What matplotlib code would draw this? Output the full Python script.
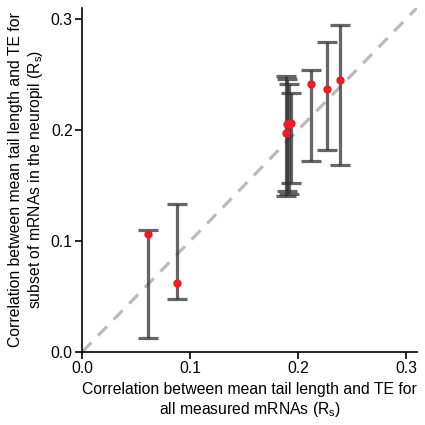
# neuropil subset vs all mRNAs: tail length / TE correlation

import numpy as np
import matplotlib.pyplot as plt

plt.rcParams['font.family'] = ['Liberation Sans', 'DejaVu Sans']

# correlation for all measured mRNAs (x) and for the neuropil subset (y)
rs_all = [0.061, 0.088, 0.1885, 0.190, 0.1915, 0.1935, 0.2118, 0.2263, 0.2386]
rs_sub = [0.106, 0.062, 0.197, 0.205, 0.2057, 0.206, 0.2415, 0.237, 0.2448]
ci_low = [0.0126, 0.0476, 0.1407, 0.1445, 0.142, 0.152, 0.1716, 0.1816, 0.168]
ci_high = [0.110, 0.1334, 0.249, 0.2455, 0.241, 0.233, 0.254, 0.279, 0.2945]

x = np.array(rs_all)
y = np.array(rs_sub)
yerr = np.array([y - np.array(ci_low), np.array(ci_high) - y])

fig = plt.figure(figsize=(4.25, 4.25), dpi=100)
ax = fig.add_axes([0.194, 0.1725, 0.787, 0.809])

ax.plot([0, 0.32], [0, 0.32], color='#bbbbbb', lw=2.3, ls=(0, (4, 3)), zorder=1)
ax.errorbar(x, y, yerr=yerr, fmt='none', ecolor='#333333', elinewidth=2.3,
            capsize=7.5, capthick=2.3, alpha=0.75, zorder=2)
ax.scatter(x, y, s=36, color='#ee1c24', zorder=3, linewidths=0)

ax.set_xlim(0, 0.31)
ax.set_ylim(0, 0.31)
ax.set_xticks([0.0, 0.1, 0.2, 0.3])
ax.set_yticks([0.0, 0.1, 0.2, 0.3])
ax.set_xticklabels(['0.0', '0.1', '0.2', '0.3'])
ax.set_yticklabels(['0.0', '0.1', '0.2', '0.3'])
ax.tick_params(labelsize=11.3, length=5, width=1.2, pad=2)

for s in ['top', 'right']:
    ax.spines[s].set_visible(False)
for s in ['left', 'bottom']:
    ax.spines[s].set_linewidth(1.2)

ax.set_xlabel('Correlation between mean tail length and TE for\nall measured mRNAs (R$_\\mathregular{s}$)',
              fontsize=11.3, labelpad=4, linespacing=1.2)
ax.set_ylabel('Correlation between mean tail length and TE for\nsubset of mRNAs in the neuropil (R$_\\mathregular{s}$)',
              fontsize=11.3, labelpad=4, linespacing=1.2)

plt.savefig('out.png', dpi=100)
